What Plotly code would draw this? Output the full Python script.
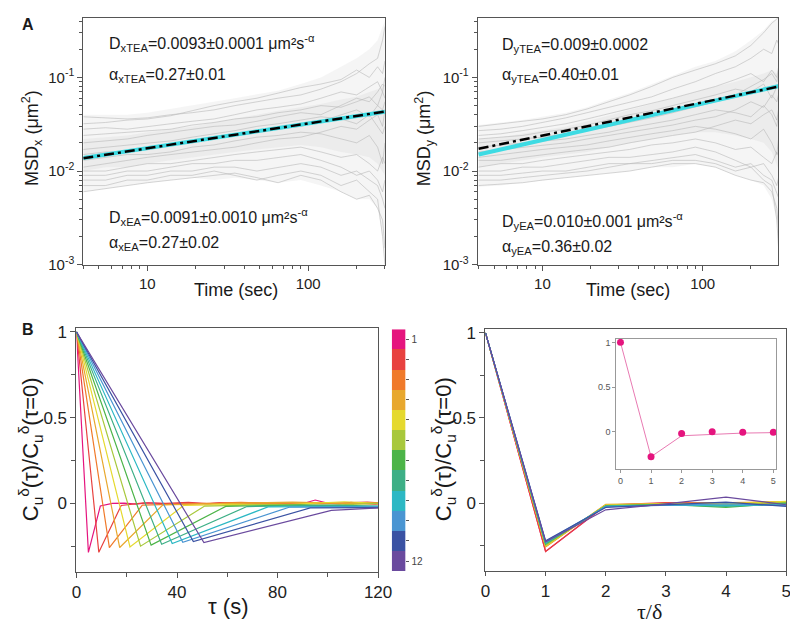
import plotly.graph_objects as go

W, H = 798, 623

# ---------------- Panel A data ----------------
t_traj = [4, 5.5, 7.5, 10, 14, 19, 26, 35, 48, 65, 90, 120, 160, 200, 240, 270, 290, 300]

msdx_traj = [
    [0.038, 0.037, 0.036, 0.037, 0.040, 0.042, 0.045, 0.050, 0.055, 0.060, 0.065, 0.075, 0.090, 0.110, 0.140, 0.160, 0.250, 0.350],
    [0.032, 0.033, 0.035, 0.036, 0.039, 0.044, 0.050, 0.055, 0.060, 0.068, 0.078, 0.085, 0.095, 0.120, 0.100, 0.130, 0.110, 0.150],
    [0.028, 0.029, 0.028, 0.030, 0.032, 0.034, 0.036, 0.040, 0.045, 0.048, 0.052, 0.060, 0.070, 0.065, 0.080, 0.090, 0.070, 0.100],
    [0.024, 0.025, 0.026, 0.027, 0.028, 0.031, 0.033, 0.036, 0.038, 0.042, 0.045, 0.050, 0.048, 0.055, 0.062, 0.050, 0.070, 0.060],
    [0.020, 0.021, 0.022, 0.024, 0.026, 0.028, 0.030, 0.031, 0.034, 0.038, 0.042, 0.040, 0.050, 0.060, 0.055, 0.070, 0.085, 0.080],
    [0.017, 0.018, 0.019, 0.020, 0.021, 0.023, 0.025, 0.027, 0.030, 0.032, 0.035, 0.038, 0.036, 0.032, 0.040, 0.030, 0.025, 0.030],
    [0.015, 0.016, 0.016, 0.017, 0.019, 0.020, 0.022, 0.024, 0.026, 0.028, 0.030, 0.034, 0.040, 0.045, 0.038, 0.050, 0.045, 0.055],
    [0.013, 0.014, 0.015, 0.015, 0.016, 0.018, 0.019, 0.021, 0.023, 0.024, 0.026, 0.025, 0.022, 0.020, 0.024, 0.018, 0.012, 0.020],
    [0.011, 0.012, 0.013, 0.014, 0.015, 0.016, 0.017, 0.018, 0.020, 0.022, 0.023, 0.026, 0.030, 0.028, 0.035, 0.040, 0.030, 0.045],
    [0.010, 0.010, 0.011, 0.012, 0.012, 0.013, 0.014, 0.015, 0.016, 0.017, 0.018, 0.016, 0.014, 0.015, 0.012, 0.010, 0.014, 0.012],
    [0.009, 0.009, 0.010, 0.010, 0.011, 0.012, 0.012, 0.013, 0.013, 0.014, 0.015, 0.013, 0.011, 0.009, 0.010, 0.008, 0.006, 0.008],
    [0.008, 0.008, 0.009, 0.009, 0.010, 0.010, 0.011, 0.011, 0.010, 0.011, 0.012, 0.011, 0.009, 0.010, 0.008, 0.007, 0.005, 0.004],
    [0.007, 0.007, 0.008, 0.008, 0.009, 0.009, 0.010, 0.009, 0.008, 0.009, 0.010, 0.009, 0.007, 0.008, 0.006, 0.005, 0.002, 0.001],
    [0.006, 0.0065, 0.007, 0.0075, 0.008, 0.0085, 0.009, 0.0095, 0.0085, 0.0075, 0.009, 0.008, 0.006, 0.005, 0.0055, 0.004, 0.003, 0.0015],
]
# density envelopes of the grey trajectory cloud (outer / inner)
msdx_outer_hi = [0.040, 0.040, 0.040, 0.042, 0.046, 0.050, 0.055, 0.060, 0.066, 0.072, 0.085, 0.100, 0.130, 0.160, 0.200, 0.250, 0.350, 0.400]
msdx_outer_lo = [0.006, 0.0065, 0.007, 0.0075, 0.008, 0.0085, 0.008, 0.0085, 0.008, 0.0075, 0.008, 0.007, 0.006, 0.005, 0.005, 0.004, 0.002, 0.001]
msdx_inner_hi = [0.022, 0.023, 0.024, 0.026, 0.028, 0.030, 0.033, 0.036, 0.040, 0.044, 0.048, 0.052, 0.058, 0.062, 0.070, 0.075, 0.080, 0.085]
msdx_inner_lo = [0.010, 0.011, 0.011, 0.012, 0.013, 0.014, 0.015, 0.016, 0.017, 0.018, 0.019, 0.018, 0.016, 0.015, 0.014, 0.012, 0.010, 0.009]

msdy_traj = [
    [0.030, 0.032, 0.034, 0.036, 0.040, 0.046, 0.055, 0.065, 0.080, 0.100, 0.120, 0.140, 0.170, 0.220, 0.300, 0.380, 0.420, 0.450],
    [0.027, 0.028, 0.030, 0.033, 0.037, 0.042, 0.048, 0.055, 0.062, 0.075, 0.090, 0.110, 0.130, 0.160, 0.200, 0.180, 0.250, 0.220],
    [0.024, 0.025, 0.027, 0.029, 0.032, 0.036, 0.041, 0.046, 0.052, 0.060, 0.070, 0.080, 0.095, 0.110, 0.090, 0.120, 0.100, 0.140],
    [0.022, 0.023, 0.024, 0.026, 0.028, 0.031, 0.035, 0.040, 0.044, 0.050, 0.058, 0.065, 0.075, 0.070, 0.085, 0.060, 0.080, 0.075],
    [0.020, 0.021, 0.022, 0.023, 0.025, 0.027, 0.030, 0.033, 0.037, 0.042, 0.048, 0.055, 0.065, 0.080, 0.095, 0.110, 0.090, 0.120],
    [0.018, 0.019, 0.020, 0.021, 0.022, 0.024, 0.026, 0.029, 0.032, 0.035, 0.040, 0.045, 0.042, 0.038, 0.050, 0.040, 0.030, 0.045],
    [0.016, 0.017, 0.018, 0.019, 0.020, 0.022, 0.024, 0.026, 0.028, 0.031, 0.035, 0.038, 0.045, 0.055, 0.048, 0.065, 0.055, 0.070],
    [0.014, 0.015, 0.016, 0.017, 0.018, 0.019, 0.021, 0.023, 0.025, 0.027, 0.030, 0.028, 0.025, 0.022, 0.028, 0.020, 0.015, 0.025],
    [0.013, 0.013, 0.014, 0.015, 0.016, 0.017, 0.018, 0.020, 0.022, 0.024, 0.026, 0.030, 0.035, 0.032, 0.040, 0.045, 0.035, 0.050],
    [0.011, 0.012, 0.012, 0.013, 0.014, 0.015, 0.016, 0.017, 0.019, 0.020, 0.022, 0.020, 0.017, 0.018, 0.014, 0.012, 0.016, 0.014],
    [0.010, 0.010, 0.011, 0.011, 0.012, 0.013, 0.014, 0.014, 0.015, 0.016, 0.018, 0.016, 0.013, 0.011, 0.012, 0.009, 0.007, 0.009],
    [0.009, 0.009, 0.0095, 0.010, 0.010, 0.011, 0.012, 0.012, 0.013, 0.014, 0.015, 0.013, 0.011, 0.012, 0.009, 0.008, 0.006, 0.005],
    [0.008, 0.008, 0.0085, 0.009, 0.0095, 0.010, 0.011, 0.012, 0.012, 0.013, 0.013, 0.012, 0.010, 0.011, 0.008, 0.007, 0.003, 0.0012],
    [0.007, 0.0072, 0.0075, 0.008, 0.0085, 0.009, 0.0095, 0.010, 0.011, 0.012, 0.012, 0.011, 0.009, 0.008, 0.0075, 0.006, 0.004, 0.002],
]
msdy_outer_hi = [0.031, 0.033, 0.035, 0.038, 0.042, 0.048, 0.058, 0.068, 0.085, 0.105, 0.130, 0.150, 0.190, 0.250, 0.320, 0.400, 0.420, 0.450]
msdy_outer_lo = [0.0068, 0.007, 0.0075, 0.008, 0.0085, 0.009, 0.0095, 0.010, 0.011, 0.011, 0.012, 0.011, 0.009, 0.008, 0.007, 0.005, 0.003, 0.0012]
msdy_inner_hi = [0.022, 0.023, 0.025, 0.027, 0.030, 0.034, 0.039, 0.045, 0.052, 0.060, 0.070, 0.080, 0.090, 0.100, 0.110, 0.120, 0.110, 0.130]
msdy_inner_lo = [0.011, 0.012, 0.013, 0.014, 0.015, 0.016, 0.018, 0.020, 0.022, 0.024, 0.026, 0.026, 0.024, 0.022, 0.020, 0.016, 0.012, 0.010]

fit_t = [4, 300]
fitx_cyan = [0.0138, 0.043]
fitx_black = [0.0137, 0.0432]
fity_cyan = [0.0150, 0.081]
fity_black = [0.0173, 0.080]

# ---------------- Panel B data ----------------
lags = [4.75, 8.9, 13.1, 17.2, 21.3, 25.5, 29.7, 33.9, 38.1, 42.3, 46.5, 50.7]
corr = [
    [1, -0.285, -0.015, 0.0, 0.002, -0.004, 0.004, 0.001, -0.004, 0.003, 0.002, -0.002, 0.005, 0.0,
     -0.003, 0.004, 0.002, -0.002, 0.003, 0.0, 0.02, 0.002, -0.003, 0.006, 0.0, -0.004, 0.002],
    [1, -0.285, -0.012, 0.003, 0.0, 0.006, -0.002, 0.004, 0.001, 0.005, 0.002, -0.001, 0.003, 0.008, 0.0],
    [1, -0.257, -0.010, -0.004, 0.002, 0.006, 0.0, 0.003, 0.001, -0.002, 0.002],
    [1, -0.257, -0.008, -0.003, 0.0, 0.008, 0.002, -0.002],
    [1, -0.253, -0.012, -0.005, -0.005, 0.010, -0.004],
    [1, -0.249, -0.015, -0.006, -0.010, 0.004],
    [1, -0.243, -0.017, -0.008, -0.025, 0.0],
    [1, -0.238, -0.018, -0.010, -0.020, -0.005],
    [1, -0.234, -0.020, -0.012, -0.015, -0.010],
    [1, -0.226, -0.022, -0.012, -0.005, -0.015],
    [1, -0.222, -0.026, -0.010, 0.005, -0.020],
    [1, -0.228, -0.040, -0.005, 0.035, -0.010],
]
curve_colors = ["#e5147e", "#e8413f", "#f07a2a", "#e8a82e", "#e5d92e", "#a8c83c",
                "#4cb448", "#3daf86", "#2cb8c4", "#4a95d2", "#3a52a3", "#6a4a9e"]
cbar_labels = ["1", "", "", "", "", "", "", "", "", "", "", "12"]

inset_n = [0, 1, 2, 3, 4, 5]
inset_line = [1, -0.28, -0.045, -0.03, -0.015, -0.01]
inset_dots = [1, -0.28, -0.02, 0.0, -0.005, -0.005]

# ---------------- helpers ----------------
def px(x):
    return x / W

def py(y):
    return 1 - y / H

FONT = "Liberation Sans, Arial, sans-serif"
AXC = "#555555"
GREY_LINE = "rgba(185,185,185,0.75)"

fig = go.Figure()

def add_band(lo, hi, color, xa, ya):
    fig.add_trace(go.Scatter(x=t_traj, y=lo, mode="lines", line=dict(width=0), xaxis=xa, yaxis=ya, hoverinfo="skip"))
    fig.add_trace(go.Scatter(x=t_traj, y=hi, mode="lines", line=dict(width=0), fill="tonexty", fillcolor=color,
                             xaxis=xa, yaxis=ya, hoverinfo="skip"))

BAND = "rgba(200,200,200,0.18)"

# Panel A left
add_band(msdx_outer_lo, msdx_outer_hi, BAND, "x", "y")
add_band(msdx_inner_lo, msdx_inner_hi, BAND, "x", "y")
for tr in msdx_traj:
    fig.add_trace(go.Scatter(x=t_traj, y=tr, mode="lines", line=dict(color=GREY_LINE, width=0.8),
                             xaxis="x", yaxis="y", hoverinfo="skip"))
fig.add_trace(go.Scatter(x=fit_t, y=fitx_cyan, mode="lines", line=dict(color="#3ddbe3", width=4), xaxis="x", yaxis="y"))
fig.add_trace(go.Scatter(x=fit_t, y=fitx_black, mode="lines", line=dict(color="black", width=2.5, dash="10px,4px,3px,4px"),
                         xaxis="x", yaxis="y"))

# Panel A right
add_band(msdy_outer_lo, msdy_outer_hi, BAND, "x2", "y2")
add_band(msdy_inner_lo, msdy_inner_hi, BAND, "x2", "y2")
for tr in msdy_traj:
    fig.add_trace(go.Scatter(x=t_traj, y=tr, mode="lines", line=dict(color=GREY_LINE, width=0.8),
                             xaxis="x2", yaxis="y2", hoverinfo="skip"))
fig.add_trace(go.Scatter(x=fit_t, y=fity_cyan, mode="lines", line=dict(color="#3ddbe3", width=4), xaxis="x2", yaxis="y2"))
fig.add_trace(go.Scatter(x=fit_t, y=fity_black, mode="lines", line=dict(color="black", width=2.5, dash="10px,4px,3px,4px"),
                         xaxis="x2", yaxis="y2"))

# Panel B left (tau in s)
for d, vals, c in zip(lags, corr, curve_colors):
    xs = [d * n for n in range(len(vals))]
    fig.add_trace(go.Scatter(x=xs, y=vals, mode="lines", line=dict(color=c, width=1.2), xaxis="x3", yaxis="y3"))

# colorbar as heatmap
ncol = len(curve_colors)
cs = []
for i, c in enumerate(curve_colors):
    cs.append([i / ncol, c])
    cs.append([(i + 1) / ncol, c])
fig.add_trace(go.Heatmap(z=[[i + 1] for i in range(ncol)], x=[0], y=list(range(1, ncol + 1)),
                         colorscale=cs, zmin=0.5, zmax=ncol + 0.5, showscale=False,
                         xaxis="x4", yaxis="y4", hoverinfo="skip"))

# Panel B right (tau/delta)
for vals, c in zip(corr, curve_colors):
    nn = list(range(6))
    fig.add_trace(go.Scatter(x=nn, y=vals[:6], mode="lines", line=dict(color=c, width=1.2), xaxis="x5", yaxis="y5"))

# inset
fig.add_trace(go.Scatter(x=inset_n, y=inset_line, mode="lines", line=dict(color="#e87ab2", width=1), xaxis="x6", yaxis="y6"))
fig.add_trace(go.Scatter(x=inset_n, y=inset_dots, mode="markers", marker=dict(color="#e5147e", size=7), xaxis="x6", yaxis="y6"))

# ---------------- axes ----------------
def frame(**kw):
    d = dict(showline=True, linecolor=AXC, linewidth=1, mirror=True, showgrid=False, zeroline=False,
             ticks="outside", tickcolor=AXC, ticklen=5, tickfont=dict(family=FONT, size=15, color="#222"))
    d.update(kw)
    return d

minor_x_log = dict(ticks="outside", ticklen=3, tickcolor=AXC,
                   tickvals=[4, 5, 6, 7, 8, 9, 20, 30, 40, 50, 60, 70, 80, 90, 200, 300])
minor_y_log = dict(ticks="outside", ticklen=3, tickcolor=AXC,
                   tickvals=[0.002, 0.003, 0.004, 0.005, 0.006, 0.007, 0.008, 0.009,
                             0.02, 0.03, 0.04, 0.05, 0.06, 0.07, 0.08, 0.09, 0.2, 0.3, 0.4])
ylog_ticks = dict(tickvals=[0.001, 0.01, 0.1], ticktext=["10<sup>-3</sup>", "10<sup>-2</sup>", "10<sup>-1</sup>"])

layout = dict(
    width=W, height=H, margin=dict(l=0, r=0, t=0, b=0), showlegend=False,
    paper_bgcolor="white", plot_bgcolor="white",
    xaxis=frame(type="log", domain=[px(72), px(381)], range=[0.602, 2.477], anchor="y",
                tickvals=[10, 100], ticktext=["10", "100"], minor=minor_x_log),
    yaxis=frame(type="log", domain=[py(257), py(5)], range=[-3, -0.364], anchor="x",
                minor=minor_y_log, **ylog_ticks),
    xaxis2=frame(type="log", domain=[px(476), px(784)], range=[0.596, 2.472], anchor="y2",
                 tickvals=[10, 100], ticktext=["10", "100"], minor=minor_x_log),
    yaxis2=frame(type="log", domain=[py(257), py(5)], range=[-3, -0.364], anchor="x2",
                 minor=minor_y_log, **ylog_ticks),
    xaxis3=frame(domain=[px(65), px(374)], range=[0, 120], anchor="y3",
                 tickvals=[0, 40, 80, 120], tickfont=dict(family=FONT, size=17, color="#222"),
                 minor=dict(ticks="outside", ticklen=4, tickcolor=AXC, tickvals=[20, 60, 100])),
    yaxis3=frame(domain=[py(571), py(322)], range=[-0.4, 1.021], anchor="x3",
                 tickvals=[0, 0.5, 1], ticktext=["0", "0.5", "1"], tickfont=dict(family=FONT, size=17, color="#222"),
                 minor=dict(ticks="outside", ticklen=4, tickcolor=AXC, tickvals=[-0.25, 0.25, 0.75])),
    xaxis4=dict(domain=[px(388), px(402)], range=[-0.5, 0.5], anchor="y4", visible=False, fixedrange=True),
    yaxis4=dict(domain=[py(570), py(323)], range=[ncol + 0.5, 0.5], anchor="x4", side="right",
                showline=False, showgrid=False, zeroline=False, ticks="outside", ticklen=3, tickcolor=AXC,
                tickvals=list(range(1, ncol + 1)), ticktext=cbar_labels,
                tickfont=dict(family=FONT, size=10, color="#444")),
    xaxis5=frame(domain=[px(484), px(792)], range=[0, 5], anchor="y5", ticklen=4,
                 tickvals=[0, 1, 2, 3, 4, 5], tickfont=dict(family=FONT, size=17, color="#222")),
    yaxis5=frame(domain=[py(570), py(323)], range=[-0.4, 1.021], anchor="x5",
                 tickvals=[0, 0.5, 1], ticktext=["0", "0.5", "1"], tickfont=dict(family=FONT, size=17, color="#222"),
                 minor=dict(ticks="outside", ticklen=4, tickcolor=AXC, tickvals=[-0.25, 0.25, 0.75])),
    xaxis6=frame(domain=[px(618), px(782)], range=[-0.137, 5.1], anchor="y6", linecolor="#999",
                 tickcolor="#999", ticklen=3, tickvals=[0, 1, 2, 3, 4, 5],
                 tickfont=dict(family=FONT, size=9, color="#555")),
    yaxis6=frame(domain=[py(466), py(333)], range=[-0.42, 1.037], anchor="x6", linecolor="#999",
                 tickcolor="#999", ticklen=3, tickvals=[0, 0.5, 1], ticktext=["0", "0.5", "1"],
                 tickfont=dict(family=FONT, size=9, color="#555")),
)
fig.update_layout(**layout)

# ---------------- annotations ----------------
def ann(x, y, text, size=16, angle=0, xanchor="left", family=FONT, bold=False):
    fig.add_annotation(x=px(x), y=py(y), xref="paper", yref="paper", text=("<b>%s</b>" % text) if bold else text,
                       showarrow=False, xanchor=xanchor, yanchor="middle", textangle=angle, borderpad=0,
                       font=dict(family=family, size=size, color="#1a1a1a"))

ann(97, 31, "D<sub>xTEA</sub>=0.0093±0.0001 μm²s<sup>-α</sup>")
ann(97, 64, "α<sub>xTEA</sub>=0.27±0.01")
ann(97, 208, "D<sub>xEA</sub>=0.0091±0.0010 μm²s<sup>-α</sup>")
ann(97, 235, "α<sub>xEA</sub>=0.27±0.02")
ann(500, 33, "D<sub>yTEA</sub>=0.009±0.0002")
ann(500, 64, "α<sub>yTEA</sub>=0.40±0.01")
ann(500, 212, "D<sub>yEA</sub>=0.010±0.001 μm²s<sup>-α</sup>")
ann(500, 239, "α<sub>yEA</sub>=0.36±0.02")

ann(228, 283, "Time (sec)", size=18, xanchor="center")
ann(630, 283, "Time (sec)", size=18, xanchor="center")
ann(19, 128, "MSD<sub>x</sub> (μm<sup>2</sup>)", size=18, angle=-90, xanchor="center")
ann(421, 128, "MSD<sub>y</sub> (μm<sup>2</sup>)", size=18, angle=-90, xanchor="center")

ann(18, 446, "C<sub>u</sub><sup>δ</sup>(τ)/C<sub>u</sub><sup>δ</sup>(τ=0)", size=22, angle=-90, xanchor="center")
ann(441, 446, "C<sub>u</sub><sup>δ</sup>(τ)/C<sub>u</sub><sup>δ</sup>(τ=0)", size=22, angle=-90, xanchor="center")
ann(220, 606, "τ (s)", size=22, xanchor="center")
ann(652, 611, "τ/δ", size=22, xanchor="center", family="Liberation Serif, Times New Roman, serif")

ann(8, 12, "A", size=16, bold=True)
ann(8, 323, "B", size=16, bold=True)

fig.write_html("out.html")
